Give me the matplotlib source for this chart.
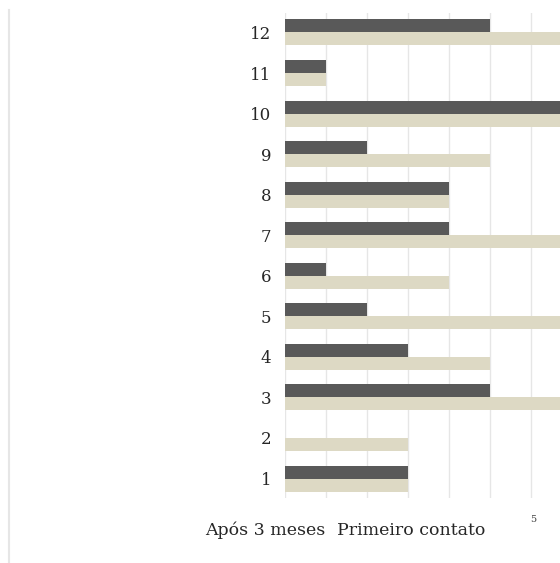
import numpy as np
import matplotlib
matplotlib.use('Agg')
import matplotlib.pyplot as plt
from matplotlib.lines import Line2D

categories = [1, 2, 3, 4, 5, 6, 7, 8, 9, 10, 11, 12]
apos_3_meses = [3, 0, 5, 3, 2, 1, 4, 4, 2, 7, 1, 5]
primeiro_contato = [3, 3, 7, 5, 7, 4, 7, 4, 5, 7, 1, 7]

DARK = '#595959'
BEIGE = '#ddd9c4'

plt.rcParams['font.family'] = ['DejaVu Serif']

fig = plt.figure(figsize=(5.6, 5.63), dpi=100)
ax = fig.add_axes([285 / 560, 1 - 498 / 563, 1 - 285 / 560, (498 - 13) / 563])

y = np.arange(len(categories)) + 1
h = 0.32
ax.barh(y + h / 2, apos_3_meses, height=h, color=DARK, label='Após 3 meses', zorder=3)
ax.barh(y - h / 2, primeiro_contato, height=h, color=BEIGE, label='Primeiro contato', zorder=3)

ax.set_xlim(0, 275 / 41)
ax.set_ylim(0.52, 12.48)
ax.set_yticks(y)
ax.set_yticklabels([str(c) for c in categories], fontsize=12, color='#262626')
ax.set_xticks(np.arange(0, 7))
ax.set_xticklabels([])
ax.tick_params(axis='y', length=0, pad=10)
ax.tick_params(axis='x', length=0)
ax.grid(axis='x', color='#e6e6e6', linewidth=1, zorder=0)
for s in ax.spines.values():
    s.set_visible(False)

ax.text(6.05, 0.0, '5', fontsize=7, color='#404040', ha='center', va='center')

leg = fig.legend(loc='center', bbox_to_anchor=(345 / 560, 1 - 530 / 563), ncol=2,
                 frameon=False, handlelength=0, handletextpad=0, columnspacing=0.7,
                 fontsize=12.5)
for hnd in leg.legend_handles:
    hnd.set_visible(False)
for t in leg.get_texts():
    t.set_color('#262626')

fig.add_artist(Line2D([9 / 560, 9 / 560], [0, 1 - 10 / 563], transform=fig.transFigure,
                      color='#e6e6e6', linewidth=1.5))

fig.savefig('out.png', dpi=100)
